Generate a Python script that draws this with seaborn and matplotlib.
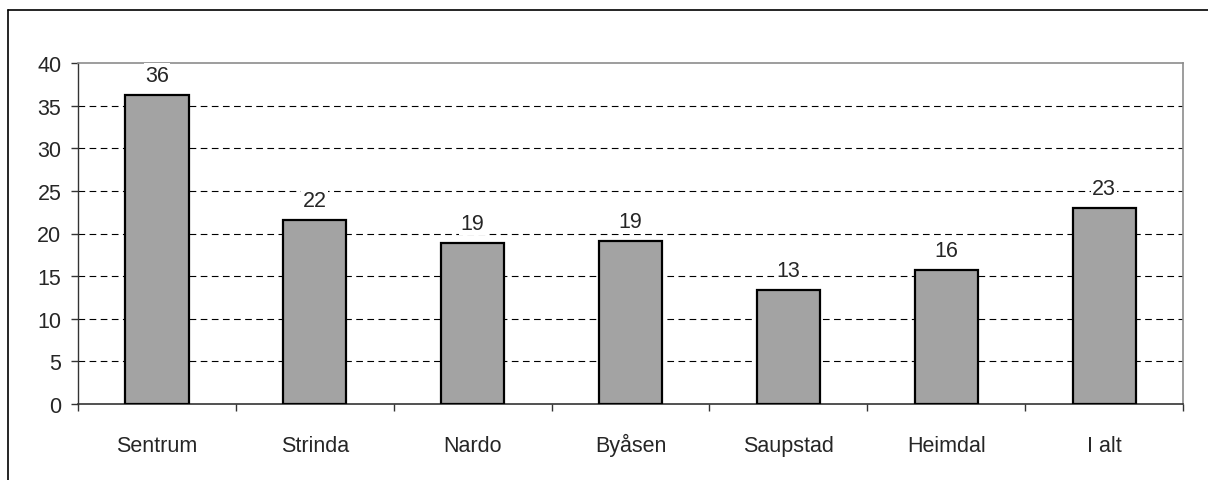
import matplotlib
matplotlib.use("Agg")
import matplotlib.pyplot as plt
import seaborn as sns
import pandas as pd
from matplotlib.lines import Line2D

# Share per district, with the total in the last column
districts = ["Sentrum", "Strinda", "Nardo", "Byåsen", "Saupstad", "Heimdal", "I alt"]
shares = [36.3, 21.6, 18.9, 19.1, 13.4, 15.7, 23.0]
y_ticks = [0, 5, 10, 15, 20, 25, 30, 35, 40]

sns.set_theme(style="white")
plt.rcParams["font.family"] = ["Liberation Sans", "DejaVu Sans"]
FS = 15.5

df = pd.DataFrame({"district": districts, "share": shares})

fig = plt.figure(figsize=(12.08, 4.81), dpi=100)
ax = fig.add_axes([78 / 1208, 76 / 481, (1183 - 78) / 1208, (405 - 64) / 481])

sns.barplot(data=df, x="district", y="share", color="#a3a3a3", saturation=1,
            edgecolor="black", linewidth=1.6, width=0.4, ax=ax, zorder=3)

ax.set_ylim(0, 40)
ax.set_xlim(-0.5, len(districts) - 0.5)
ax.set_yticks(y_ticks)
ax.set_yticklabels([str(t) for t in y_ticks], fontsize=FS)
ax.set_xlabel("")
ax.set_ylabel("")

# dashed gridlines
for t in y_ticks[1:-1]:
    ax.axhline(t, color="black", linestyle=(0, (6, 4)), linewidth=0.8, zorder=1)

# x ticks sit between categories; category names share one baseline below
ax.set_xticks([i - 0.5 for i in range(len(districts) + 1)])
ax.set_xticklabels([""] * (len(districts) + 1))
ax.tick_params(axis="x", direction="out", length=5, width=1, color="#333333", bottom=True)
ax.tick_params(axis="y", direction="out", length=5, width=1, color="#333333", left=True, pad=7)
for i, name in enumerate(districts):
    ax.annotate(name, xy=(i, 0), xycoords=("data", "axes fraction"),
                xytext=(0, -34), textcoords="offset points",
                ha="center", va="baseline", fontsize=FS)

for side in ["top", "right"]:
    ax.spines[side].set_color("#8c8c8c")
    ax.spines[side].set_linewidth(1.2)
ax.spines["left"].set_color("#333333")
ax.spines["bottom"].set_color("#333333")
ax.spines["left"].set_linewidth(1)
ax.spines["bottom"].set_linewidth(1.2)

# value labels above each bar
for i, v in enumerate(shares):
    ax.annotate(f"{v:.0f}", xy=(i, v), xytext=(0, 10), textcoords="offset points",
                ha="center", va="baseline", fontsize=FS, zorder=4,
                bbox=dict(facecolor="white", edgecolor="none", pad=1))

# outer frame lines (top and left)
top_y = 1 - 11 / 481
left_x = 8 / 1208
fig.add_artist(Line2D([left_x, 1.0], [top_y, top_y], transform=fig.transFigure,
                      color="black", linewidth=1.2))
fig.add_artist(Line2D([left_x, left_x], [0.0, top_y], transform=fig.transFigure,
                      color="black", linewidth=1.2))

fig.savefig("out.png", dpi=100, facecolor="white")
